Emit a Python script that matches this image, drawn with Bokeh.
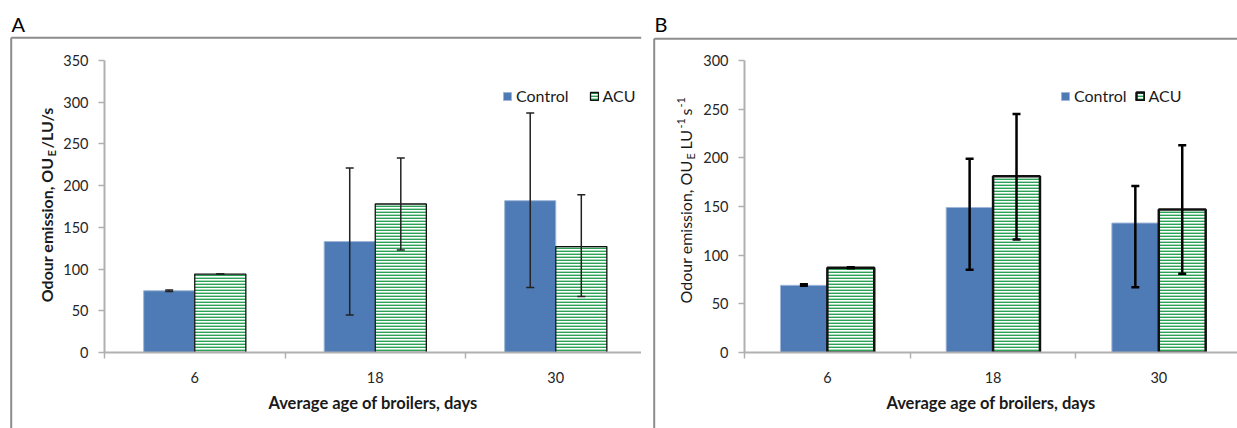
import math
from bokeh.plotting import figure
from bokeh.layouts import row
from bokeh.models import (ColumnDataSource, FixedTicker, SingleIntervalTicker, Whisker, TeeHead,
                          Legend, LegendItem, GridBox, Range1d)
from bokeh.core.properties import value
from bokeh.embed import file_html
from bokeh.resources import INLINE

# ---------------- data ----------------
categories = ["6", "18", "30"]

a_control = [74, 133, 182]
a_control_lo = [73, 45, 78]
a_control_hi = [75, 221, 287]
a_acu = [94, 178, 127]
a_acu_lo = [94, 123, 67]
a_acu_hi = [94, 233, 189]

b_control = [69, 149, 133]
b_control_lo = [68.5, 85, 67]
b_control_hi = [70, 199, 171]
b_acu = [87, 181, 147]
b_acu_lo = [86.5, 116, 81]
b_acu_hi = [87.5, 245, 213]

FONT = "Lato"
BLUE = "#4e7bb5"
GREEN = "#2ba255"
AXIS = "#b0b0b0"
BORDER = "#8c8c8c"
BAR_W = 0.283
W, H = 1237, 428


def make_panel(width, xmax, ymax, min_left, min_top, min_bottom,
               control, c_lo, c_hi, acu, u_lo, u_hi,
               acu_line_w, err_w, err_color, legend_loc, legend_spacing):
    p = figure(width=width, height=H, x_range=(0, xmax), y_range=(0, ymax),
               output_backend="svg", toolbar_location=None,
               min_border_left=min_left, min_border_right=0,
               min_border_top=min_top, min_border_bottom=min_bottom)
    p.xgrid.visible = False
    p.ygrid.visible = False
    p.outline_line_color = None
    p.background_fill_color = None
    p.border_fill_color = None

    centers = [i + 0.5 for i in range(len(categories))]
    xc = [c - BAR_W / 2 for c in centers]
    xa = [c + BAR_W / 2 for c in centers]
    src_c = ColumnDataSource(dict(x=xc, top=control, lo=c_lo, hi=c_hi))
    src_a = ColumnDataSource(dict(x=xa, top=acu, lo=u_lo, hi=u_hi))

    rc = p.vbar(x="x", top="top", width=BAR_W, source=src_c, fill_color=BLUE,
                line_color="#9fb6d8", line_width=1)
    ra = p.vbar(x="x", top="top", width=BAR_W, source=src_a, fill_color="white",
                hatch_pattern="horizontal_line", hatch_color=GREEN, hatch_scale=3,
                hatch_weight=1.8, line_color="#111111", line_width=acu_line_w)

    for src in (src_c, src_a):
        w = Whisker(source=src, base="x", upper="hi", lower="lo",
                    line_color=err_color, line_width=err_w, level="overlay",
                    upper_head=TeeHead(size=8, line_color=err_color, line_width=err_w),
                    lower_head=TeeHead(size=8, line_color=err_color, line_width=err_w))
        p.add_layout(w)

    xa_ = p.xaxis[0]
    xa_.ticker = FixedTicker(ticks=centers, minor_ticks=list(range(len(categories) + 1)))
    xa_.major_label_overrides = {c: lab for c, lab in zip(centers, categories)}
    xa_.major_tick_out = 0
    xa_.major_tick_in = 0
    xa_.minor_tick_out = 6
    xa_.minor_tick_in = 0
    xa_.minor_tick_line_color = AXIS
    xa_.minor_tick_line_width = 1.5
    xa_.axis_line_color = AXIS
    xa_.axis_line_width = 2
    xa_.major_label_text_font = FONT
    xa_.major_label_text_font_size = "14.5px"
    xa_.major_label_text_color = "#262626"
    xa_.major_label_standoff = 13
    xa_.axis_label = "Average age of broilers, days"
    xa_.axis_label_text_font = FONT
    xa_.axis_label_text_font_size = "16.5px"
    xa_.axis_label_text_font_style = "bold"
    xa_.axis_label_text_color = "#1a1a1a"
    xa_.axis_label_standoff = 7

    ya = p.yaxis[0]
    ya.ticker = SingleIntervalTicker(interval=50)
    ya.minor_tick_line_color = None
    ya.major_tick_out = 6
    ya.major_tick_in = 0
    ya.major_tick_line_color = AXIS
    ya.major_tick_line_width = 1.5
    ya.axis_line_color = AXIS
    ya.axis_line_width = 2
    ya.major_label_text_font = FONT
    ya.major_label_text_font_size = "14.5px"
    ya.major_label_text_color = "#262626"
    ya.major_label_standoff = 10

    legend = Legend(items=[LegendItem(label="Control", renderers=[rc]),
                           LegendItem(label="ACU", renderers=[ra])],
                    orientation="horizontal", location=legend_loc,
                    glyph_width=10, glyph_height=10, label_standoff=4,
                    spacing=legend_spacing, padding=0, margin=0,
                    label_text_font=FONT, label_text_font_size="16px",
                    label_text_color="#1a1a1a", label_height=15,
                    border_line_alpha=0, background_fill_alpha=0)
    p.add_layout(legend)
    return p


# ---------------- panels ----------------
pA = make_panel(641, 2.975, 350, 104, 60, 74,
                a_control, a_control_lo, a_control_hi, a_acu, a_acu_lo, a_acu_hi,
                1.3, 1.5, "#222222", (398, 247), 20)
pB = make_panel(596, 2.975, 300, 103, 58, 76,
                b_control, b_control_lo, b_control_hi, b_acu, b_acu_lo, b_acu_hi,
                2.5, 2.5, "#000000", (316, 247), 8)

# ---------------- background: panel frames, panel letters, y-axis titles ----------------
bg = figure(width=W, height=H, x_range=Range1d(0, W), y_range=Range1d(0, H),
            output_backend="svg", toolbar_location=None,
            min_border_left=0, min_border_right=0, min_border_top=0, min_border_bottom=0)
bg.axis.visible = False
bg.grid.visible = False
bg.outline_line_color = None


def Y(page_y):
    return H - page_y


bg.segment(x0=[10.7, 10.7, 653.7, 653.7], y0=[Y(37.3), Y(37.3), Y(38.3), Y(38.3)],
           x1=[10.7, 640.7, 653.7, W + 5], y1=[-5, Y(37.3), -5, Y(38.3)],
           line_color=BORDER, line_width=2)

bg.text(x=[11, 654], y=[Y(23.5), Y(23.5)], text=["A", "B"], text_font=value(FONT),
        text_font_size=value("20px"), text_color="#000000",
        text_align="left", text_baseline="alphabetic")

R = math.pi / 2


def piece(x, y, t, size, bold, align):
    bg.text(x=[x], y=[Y(y)], text=[t], angle=R, text_font=value(FONT),
            text_font_size=value(f"{size}px"), text_font_style="bold" if bold else "normal",
            text_color="#1a1a1a", text_align=align, text_baseline="alphabetic")


# panel A: Odour emission, OU_E/LU/s
piece(45.5, 157, "Odour emission, OU", 16, True, "right")
piece(50.8, 156, "E", 11, True, "left")
piece(45.5, 148, "/LU/s", 16, True, "left")

# panel B: Odour emission, OU_E LU^-1 s^-1
piece(684.5, 160, "Odour emission, OU", 16, False, "right")
piece(689.8, 159, "E", 11, False, "left")
piece(684.5, 149, "LU", 16, False, "left")
piece(680.5, 128, "-1", 11, False, "left")
piece(684.5, 115, "s", 16, False, "left")
piece(680.5, 107, "-1", 11, False, "left")

charts = row(pA, pB)
layout = GridBox(children=[(bg, 0, 0), (charts, 0, 0)])
open("out.html", "w").write(file_html(layout, INLINE))
